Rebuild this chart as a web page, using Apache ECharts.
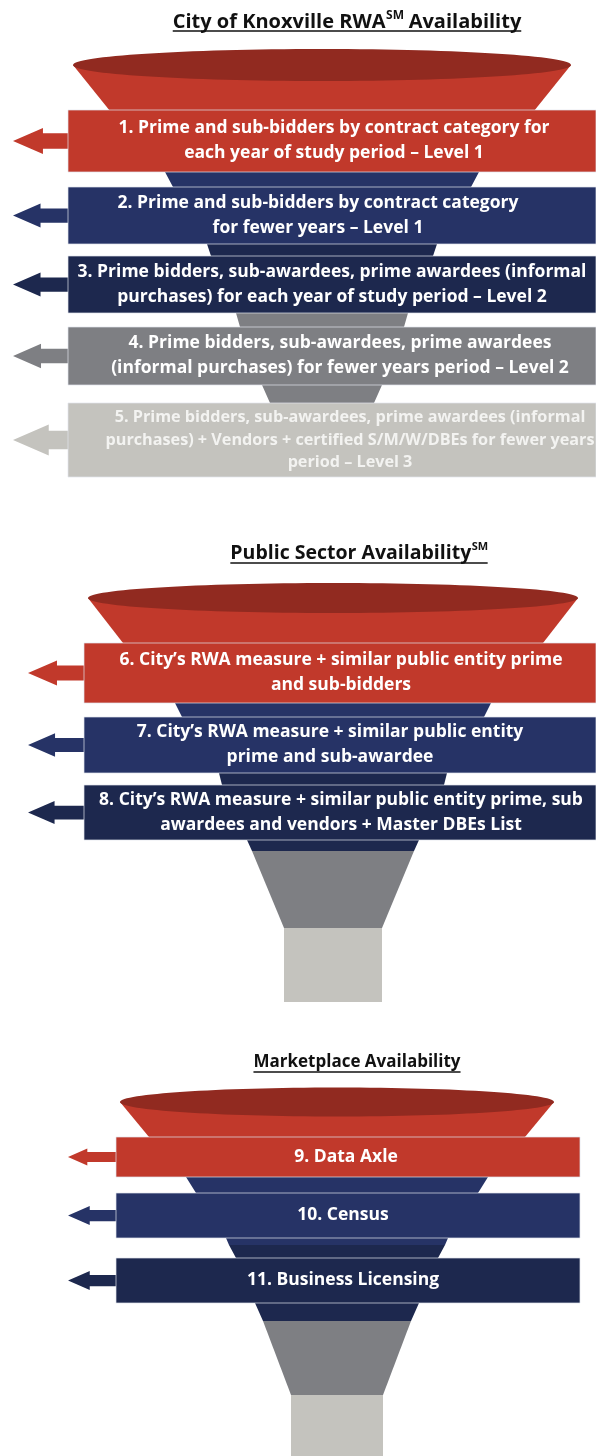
<!DOCTYPE html>
<html>
<head>
<meta charset="utf-8">
<title>RWA Availability funnels</title>
<script src="https://cdn.jsdelivr.net/npm/echarts@6/dist/echarts.min.js"></script>
<style>
  html, body { margin: 0; padding: 0; background: #fff; }
  #chart { width: 596px; height: 1456px; }
</style>
</head>
<body>
<div id="chart"></div>
<script>
// funnel titles: text before the mark, superscript mark, text after it
const titleHeads = ['City of Knoxville RWA', 'Public Sector Availability', 'Marketplace Availability'];
const titleMarks = ['SM', 'SM', ''];
const titleTails = [' Availability', '', ''];

// levels of each funnel, top to bottom
const knoxvilleLevels = [
  '1. Prime and sub-bidders by contract category for\neach year of study period – Level 1',
  '2. Prime and sub-bidders by contract category\nfor fewer years – Level 1',
  '3. Prime bidders, sub-awardees, prime awardees (informal\npurchases) for each year of study period – Level 2',
  '4. Prime bidders, sub-awardees, prime awardees\n(informal purchases) for fewer years period – Level 2',
  '5. Prime bidders, sub-awardees, prime awardees (informal\npurchases) + Vendors + certified S/M/W/DBEs for fewer years\nperiod – Level 3'
];
const publicLevels = [
  '6. City’s RWA measure + similar public entity prime\nand sub-bidders',
  '7. City’s RWA measure + similar public entity\nprime and sub-awardee',
  '8. City’s RWA measure + similar public entity prime, sub\nawardees and vendors + Master DBEs List'
];
const marketLevels = ['9. Data Axle', '10. Census', '11. Business Licensing'];
const funnelLevels = [knoxvilleLevels, publicLevels, marketLevels];

// colours
const tones = {
  red: '#C1392B',
  navy: '#263366',
  deep: '#1D284E',
  gray: '#7E7F83',
  light: '#C4C3BE'
};
const rimColor = '#912A20';
const FONT = '"Open Sans"';

// geometry, in page pixels (axes below map 1:1)
// bands: [top, bottom, text centre x, text size, line height]
const layout = [
  {
    cx: 322, titleX: 347, titleY: 22, underlineY: 31, titleSize: 20,
    rim: { cy: 65, rx: 249, ry: 16 },
    bandX: [68, 596], arrowTip: 13,
    bands: [[110, 172, 334, 17.5, 25], [187, 244, 318, 17.5, 25], [256, 313, 332, 17.5, 25],
            [327, 385, 340, 17.5, 25], [403, 477, 350, 16.2, 22.5]],
    bandTones: ['red', 'navy', 'deep', 'gray', 'light'],
    body: [
      ['red', [[65, 249], [111, 212], [172, 157]]],
      ['navy', [[172, 157], [187, 149], [244, 115]]],
      ['deep', [[244, 115], [256, 111], [313, 86]]],
      ['gray', [[313, 86], [327, 82], [385, 60], [403, 52], [420, 48]]]
    ]
  },
  {
    cx: 333, titleX: 359, titleY: 553, underlineY: 563, titleSize: 19.5,
    rim: { cy: 598, rx: 245, ry: 15 },
    bandX: [84, 596], arrowTip: 28,
    bands: [[643, 703, 341, 17.5, 25], [717, 773, 330, 17.5, 25], [785, 840, 341, 17.5, 25]],
    bandTones: ['red', 'navy', 'deep'],
    body: [
      ['red', [[598, 245], [643, 210], [703, 158]]],
      ['navy', [[703, 158], [717, 151], [773, 114]]],
      ['deep', [[773, 114], [785, 111], [840, 86], [851, 81]]],
      ['gray', [[851, 81], [928, 49]]],
      ['light', [[928, 49], [1002, 49]]]
    ]
  },
  {
    cx: 337, titleX: 357, titleY: 1062, underlineY: 1072, titleSize: 17,
    rim: { cy: 1102, rx: 217, ry: 14.5 },
    bandX: [116, 580], arrowTip: 68,
    bands: [[1137, 1177, 346, 17.5, 25], [1193, 1238, 343, 17.5, 25], [1258, 1303, 343, 17.5, 25]],
    bandTones: ['red', 'navy', 'deep'],
    body: [
      ['red', [[1102, 217], [1137, 188], [1177, 151]]],
      ['navy', [[1177, 151], [1193, 141], [1238, 111], [1245, 108]]],
      ['deep', [[1245, 108], [1258, 101], [1303, 82], [1321, 74]]],
      ['gray', [[1321, 74], [1395, 46]]],
      ['light', [[1395, 46], [1460, 46]]]
    ]
  }
];

const measureCtx = document.createElement('canvas').getContext('2d');
function textWidth(str, size) {
  if (!str) return 0;
  measureCtx.font = 'bold ' + size + 'px ' + FONT;
  return measureCtx.measureText(str).width;
}

function renderBody(params, api) {
  const f = api.value(0);
  const L = layout[f];
  const children = [];

  // cone pieces
  L.body.forEach(function (seg) {
    const pts = seg[1];
    const left = pts.map(function (p) { return api.coord([L.cx - p[1], p[0]]); });
    const right = pts.slice().reverse().map(function (p) { return api.coord([L.cx + p[1], p[0]]); });
    children.push({
      type: 'polygon',
      shape: { points: left.concat(right) },
      style: { fill: tones[seg[0]] }
    });
  });

  // rim of the funnel
  const c = api.coord([L.cx, L.rim.cy]);
  const e = api.coord([L.cx + L.rim.rx, L.rim.cy + L.rim.ry]);
  children.push({
    type: 'ellipse',
    shape: { cx: c[0], cy: c[1], rx: e[0] - c[0], ry: e[1] - c[1] },
    style: { fill: rimColor }
  });

  // title with superscript mark and underline
  const head = titleHeads[f];
  const mark = titleMarks[f];
  const tail = titleTails[f];
  const supSize = Math.round(L.titleSize * 0.58);
  const w1 = textWidth(head, L.titleSize);
  const w2 = textWidth(mark, supSize);
  const w3 = textWidth(tail, L.titleSize);
  const total = w1 + w2 + w3;
  const t0 = api.coord([L.titleX - total / 2, L.titleY]);
  const base = { fill: '#111', fontWeight: 'bold', fontFamily: FONT, verticalAlign: 'middle', align: 'left' };
  children.push({
    type: 'text',
    style: Object.assign({}, base, { text: head, x: t0[0], y: t0[1], fontSize: L.titleSize })
  });
  if (mark) {
    children.push({
      type: 'text',
      style: Object.assign({}, base, { text: mark, x: t0[0] + w1 + 0.5, y: t0[1] - L.titleSize * 0.3, fontSize: supSize })
    });
  }
  if (tail) {
    children.push({
      type: 'text',
      style: Object.assign({}, base, { text: tail, x: t0[0] + w1 + w2, y: t0[1], fontSize: L.titleSize })
    });
  }
  const u0 = api.coord([L.titleX - total / 2, L.underlineY]);
  const u1 = api.coord([L.titleX + total / 2, L.underlineY]);
  children.push({
    type: 'line',
    shape: { x1: u0[0], y1: u0[1], x2: u1[0], y2: u1[1] },
    style: { stroke: '#111', lineWidth: 1.4 }
  });

  return { type: 'group', children: children };
}

function renderLevel(params, api) {
  const f = api.value(0);
  const i = api.value(1);
  const L = layout[f];
  const b = L.bands[i];
  const color = tones[L.bandTones[i]];
  const h = b[1] - b[0];
  const mid = (b[0] + b[1]) / 2;
  const headH = h * 0.42;
  const shaftH = h * 0.25;
  const headL = headH * 1.15;

  const p0 = api.coord([L.bandX[0], b[0]]);
  const p1 = api.coord([L.bandX[1], b[1]]);

  const arrowPts = [
    [L.arrowTip, mid],
    [L.arrowTip + headL, mid - headH / 2],
    [L.arrowTip + headL, mid - shaftH / 2],
    [L.bandX[0] + 1, mid - shaftH / 2],
    [L.bandX[0] + 1, mid + shaftH / 2],
    [L.arrowTip + headL, mid + shaftH / 2],
    [L.arrowTip + headL, mid + headH / 2]
  ].map(function (p) { return api.coord(p); });

  const tc = api.coord([b[2], mid]);
  const isLight = L.bandTones[i] === 'light';

  return {
    type: 'group',
    children: [
      {
        type: 'polygon',
        shape: { points: arrowPts },
        style: { fill: color }
      },
      {
        type: 'rect',
        shape: { x: p0[0], y: p0[1], width: p1[0] - p0[0], height: p1[1] - p0[1] },
        style: { fill: color, stroke: 'rgba(225,228,236,0.7)', lineWidth: 1 }
      },
      {
        type: 'text',
        style: {
          text: funnelLevels[f][i],
          x: tc[0], y: tc[1],
          align: 'center', verticalAlign: 'middle',
          fill: isLight ? '#F3F3F1' : '#FFFFFF',
          fontFamily: FONT, fontWeight: 'bold',
          fontSize: b[3], lineHeight: b[4]
        }
      }
    ]
  };
}

const series = [];
titleHeads.forEach(function (title, f) {
  series.push({
    type: 'custom',
    name: title,
    data: [[f, 0]],
    renderItem: renderBody,
    clip: false,
    silent: true,
    z: 1
  });
  series.push({
    type: 'custom',
    name: title + ' levels',
    data: funnelLevels[f].map(function (t, i) { return [f, i]; }),
    renderItem: renderLevel,
    clip: false,
    silent: true,
    z: 2
  });
});

const chart = echarts.init(document.getElementById('chart'));
chart.setOption({
  animation: false,
  grid: { left: 0, right: 0, top: 0, bottom: 0 },
  xAxis: { type: 'value', min: 0, max: 596, show: false },
  yAxis: { type: 'value', min: 0, max: 1456, inverse: true, show: false },
  series: series
});
</script>
</body>
</html>
